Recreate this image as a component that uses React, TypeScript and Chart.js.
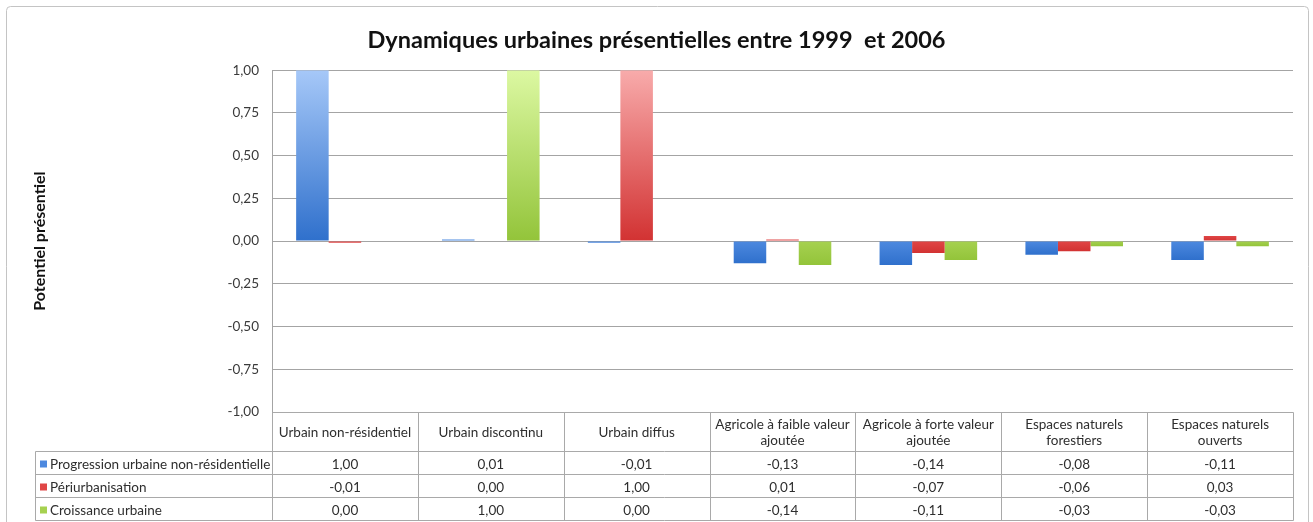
import React, { useEffect, useRef } from 'react';
import { Chart, registerables } from 'chart.js';

Chart.register(...registerables);

// ---- data ----
const categories: string[][] = [
  ['Urbain non-résidentiel'],
  ['Urbain discontinu'],
  ['Urbain diffus'],
  ['Agricole à faible valeur', 'ajoutée'],
  ['Agricole à forte valeur', 'ajoutée'],
  ['Espaces naturels', 'forestiers'],
  ['Espaces naturels', 'ouverts'],
];
const seriesNames = ['Progression urbaine non-résidentielle', 'Périurbanisation', 'Croissance urbaine'];
const progression = [1.0, 0.01, -0.01, -0.13, -0.14, -0.08, -0.11];
const periurbanisation = [-0.01, 0.0, 1.0, 0.01, -0.07, -0.06, 0.03];
const croissance = [0.0, 1.0, 0.0, -0.14, -0.11, -0.03, -0.03];
const yMin = -1;
const yMax = 1;
const yStep = 0.25;
const chartTitle = 'Dynamiques urbaines présentielles entre 1999  et 2006';
const yTitle = 'Potentiel présentiel';

// ---- styles ----
const palette = [
  { light: '#a6c8f8', mid: '#4d89df', dark: '#2f70cc' },
  { light: '#f8abab', mid: '#e04646', dark: '#d23232' },
  { light: '#dcf8a2', mid: '#a6d150', dark: '#93c43a' },
];
const FONT = 'Lato, "Open Sans", sans-serif';
const TABLE_FONT_SIZE = 13.5;
const fmt = (v: number) => v.toFixed(2).replace('.', ',');

function barFill(p: { light: string; mid: string; dark: string }) {
  return (c: any) => {
    const chart = c.chart;
    const ys = chart.scales && chart.scales.y;
    if (!ys || typeof c.raw !== 'number') return p.mid;
    const v = c.raw as number;
    const y0 = ys.getPixelForValue(Math.max(v, 0));
    const y1 = ys.getPixelForValue(Math.min(v, 0));
    if (!isFinite(y0) || !isFinite(y1) || y1 - y0 < 2) return p.mid;
    const g = chart.ctx.createLinearGradient(0, y0, 0, y1);
    if (Math.abs(v) > 0.5) {
      g.addColorStop(0, p.light);
      g.addColorStop(1, p.dark);
    } else {
      g.addColorStop(0, p.mid);
      g.addColorStop(1, p.dark);
    }
    return g;
  };
}

const framePlugin = {
  id: 'frame',
  beforeDraw(chart: any) {
    const ctx = chart.ctx;
    ctx.save();
    ctx.fillStyle = '#ffffff';
    ctx.fillRect(0, 0, chart.width, chart.height);
    ctx.strokeStyle = '#c4c4c4';
    ctx.lineWidth = 1;
    const x = 6.5, y = 6.5, w = 1302, h = 530, r = 4;
    ctx.beginPath();
    ctx.moveTo(x + r, y);
    ctx.lineTo(x + w - r, y);
    ctx.quadraticCurveTo(x + w, y, x + w, y + r);
    ctx.lineTo(x + w, y + h);
    ctx.lineTo(x, y + h);
    ctx.lineTo(x, y + r);
    ctx.quadraticCurveTo(x, y, x + r, y);
    ctx.stroke();
    ctx.restore();
  },
};

const tablePlugin = {
  id: 'dataTable',
  afterDraw(chart: any) {
    const ctx = chart.ctx;
    const xs = chart.scales.x;
    const n = categories.length;
    const left = Math.round(xs.left) + 0.5;
    const right = Math.round(xs.right) + 0.5;
    const step = (xs.right - xs.left) / n;
    const top = Math.round(chart.chartArea.bottom) + 0.5;
    const headerBottom = top + 39;
    const rowH = 23;
    const legendLeft = 35.5;
    const bottom = headerBottom + rowH * 3;
    const series = [progression, periurbanisation, croissance];

    ctx.save();
    ctx.strokeStyle = '#a9a9a9';
    ctx.lineWidth = 1;
    const line = (x1: number, y1: number, x2: number, y2: number) => {
      ctx.beginPath();
      ctx.moveTo(x1, y1);
      ctx.lineTo(x2, y2);
      ctx.stroke();
    };
    line(left, top, right, top);
    for (let r = 0; r <= 3; r++) {
      const y = headerBottom + r * rowH;
      line(legendLeft, y, right, y);
    }
    for (let i = 0; i <= n; i++) {
      const x = Math.round(xs.left + i * step) + 0.5;
      line(x, top, x, bottom);
    }
    line(legendLeft, headerBottom, legendLeft, bottom);

    ctx.fillStyle = '#2e2e2e';
    ctx.font = `${TABLE_FONT_SIZE}px ${FONT}`;
    ctx.textAlign = 'center';
    ctx.textBaseline = 'middle';
    // header labels
    categories.forEach((lines, i) => {
      const cx = xs.left + (i + 0.5) * step;
      const cy = (top + headerBottom) / 2 + 1;
      const lh = 16;
      lines.forEach((t, k) => {
        ctx.fillText(t, cx, cy + (k - (lines.length - 1) / 2) * lh);
      });
    });
    // rows
    series.forEach((vals, r) => {
      const cy = headerBottom + r * rowH + rowH / 2 + 1.5;
      ctx.fillStyle = palette[r].mid;
      ctx.fillRect(40, cy - 4, 7, 7);
      ctx.fillStyle = '#2e2e2e';
      ctx.textAlign = 'left';
      ctx.fillText(seriesNames[r], 50, cy);
      ctx.textAlign = 'center';
      vals.forEach((v, i) => {
        const cx = xs.left + (i + 0.5) * step;
        ctx.fillText(fmt(v), cx, cy);
      });
    });
    ctx.restore();
  },
};

export default function App() {
  const ref = useRef<HTMLCanvasElement | null>(null);
  useEffect(() => {
    if (!ref.current) return;
    Chart.defaults.font.family = FONT;
    const chart = new Chart(ref.current, {
      type: 'bar',
      data: {
        labels: categories,
        datasets: [progression, periurbanisation, croissance].map((d, i) => ({
          label: seriesNames[i],
          data: d,
          backgroundColor: barFill(palette[i]) as any,
          borderWidth: 0,
          categoryPercentage: 0.669,
          barPercentage: 1.0,
        })),
      },
      options: {
        responsive: false,
        animation: false,
        layout: { padding: { left: 10, right: 10, top: 0, bottom: 0 } },
        plugins: {
          legend: { display: false },
          tooltip: { enabled: false },
          title: {
            display: true,
            text: chartTitle,
            color: '#111111',
            font: { family: FONT, size: 23.5, weight: 'bold' },
            padding: { top: 26, bottom: 16 },
          },
        },
        scales: {
          x: {
            grid: { display: false },
            border: { display: false },
            ticks: { display: false },
            afterFit: (s: any) => {
              s.height = 110;
            },
          },
          y: {
            min: yMin,
            max: yMax,
            grid: { color: '#a4a4a4', drawTicks: false },
            border: { display: true, color: '#a4a4a4' },
            ticks: {
              stepSize: yStep,
              padding: 13,
              color: '#3a3a3a',
              font: { family: FONT, size: 13.5 },
              callback: (v: any) => fmt(Number(v)),
            },
            title: {
              display: true,
              text: yTitle,
              color: '#111111',
              font: { family: FONT, size: 16, weight: 'bold' },
              padding: { top: 20, bottom: 0 },
            },
            afterFit: (s: any) => {
              s.width = 262;
            },
          },
          yRight: {
            position: 'right',
            min: yMin,
            max: yMax,
            grid: { display: false, drawTicks: false },
            border: { display: false },
            ticks: { display: false },
            afterFit: (s: any) => {
              s.width = 10;
            },
          },
        },
      },
      plugins: [framePlugin, tablePlugin],
    });
    return () => chart.destroy();
  }, []);
  return (
    <div style={{ position: 'absolute', left: 0, top: 0, width: 1313, height: 522, background: '#fff' }}>
      <canvas ref={ref} width={1313} height={522} style={{ display: 'block' }} />
    </div>
  );
}
